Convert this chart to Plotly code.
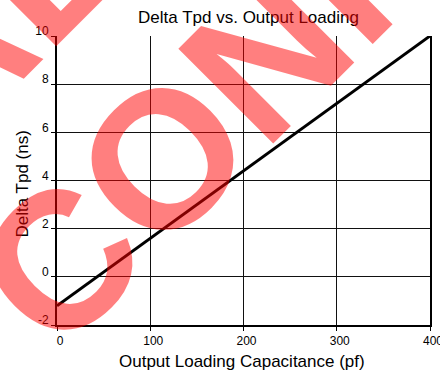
import plotly.graph_objects as go

# Delta Tpd vs. output loading capacitance
capacitance_pf = [0, 400]
delta_tpd_ns = [-1.2, 10]

x_ticks = [0, 100, 200, 300, 400]
y_ticks = [-2, 0, 2, 4, 6, 8, 10]

title_text = "Delta Tpd vs. Output Loading"
x_title = "Output Loading Capacitance (pf)"
y_title = "Delta Tpd (ns)"
watermark = "CONFIDENTIAL"

FONT = "Liberation Sans, Arial, Helvetica, sans-serif"
W, H = 440, 370
ML, MR, MT, MB = 57, 10, 36, 45
PW, PH = W - ML - MR, H - MT - MB


def paper_x(px):
    return (px - ML) / PW


def paper_y(py):
    return (H - MB - py) / PH


fig = go.Figure()
fig.add_trace(go.Scatter(
    x=capacitance_pf, y=delta_tpd_ns, mode="lines",
    line=dict(color="black", width=3), showlegend=False,
    hoverinfo="skip", cliponaxis=False,
))

axis_common = dict(
    showgrid=True, gridcolor="#111111", gridwidth=1,
    showline=True, linecolor="black", linewidth=2,
    ticks="outside", ticklen=4, tickcolor="black", tickwidth=1,
    zeroline=False, tickfont=dict(family=FONT, size=12, color="black"),
    fixedrange=True, ticklabeloverflow="allow", automargin=False,
)

fig.update_xaxes(
    range=[0, 400], tickvals=x_ticks, ticktext=[str(v) for v in x_ticks],
    ticklabelshift=3, **axis_common,
)
fig.update_yaxes(
    range=[-2, 10], tickvals=y_ticks, ticktext=[str(v) for v in y_ticks],
    mirror=True, ticklabelshift=-5, **axis_common,
)

# axis titles
fig.add_annotation(
    text=x_title, xref="paper", yref="paper",
    x=paper_x(241.5), y=paper_y(361.5), xanchor="center", yanchor="middle",
    showarrow=False, font=dict(family=FONT, size=17, color="black"),
)
fig.add_annotation(
    text=y_title, xref="paper", yref="paper",
    x=paper_x(22), y=paper_y(184.5), xanchor="center", yanchor="middle",
    textangle=-90, showarrow=False, font=dict(family=FONT, size=17, color="black"),
)

# diagonal watermark stamped over the chart
wm_font = dict(family=FONT, size=195, color="rgba(255,0,0,0.5)")
for cx, cy in [(522.4, -202.4), (-429.8, 436.0)]:
    fig.add_annotation(
        text="<b>%s</b>" % watermark, xref="paper", yref="paper",
        x=paper_x(cx), y=paper_y(cy), xanchor="center", yanchor="middle",
        textangle=-45, showarrow=False, font=wm_font,
    )

fig.update_layout(
    width=W, height=H,
    margin=dict(l=ML, r=MR, t=MT, b=MB, autoexpand=False),
    paper_bgcolor="white", plot_bgcolor="white",
    font=dict(family=FONT, color="black"),
    title=dict(text=title_text, font=dict(family=FONT, size=17, color="black"),
               xref="container", yref="container", x=248.5 / W, y=1 - 17.4 / H,
               xanchor="center", yanchor="middle"),
)

fig.write_html("out.html", config=dict(displayModeBar=False))
